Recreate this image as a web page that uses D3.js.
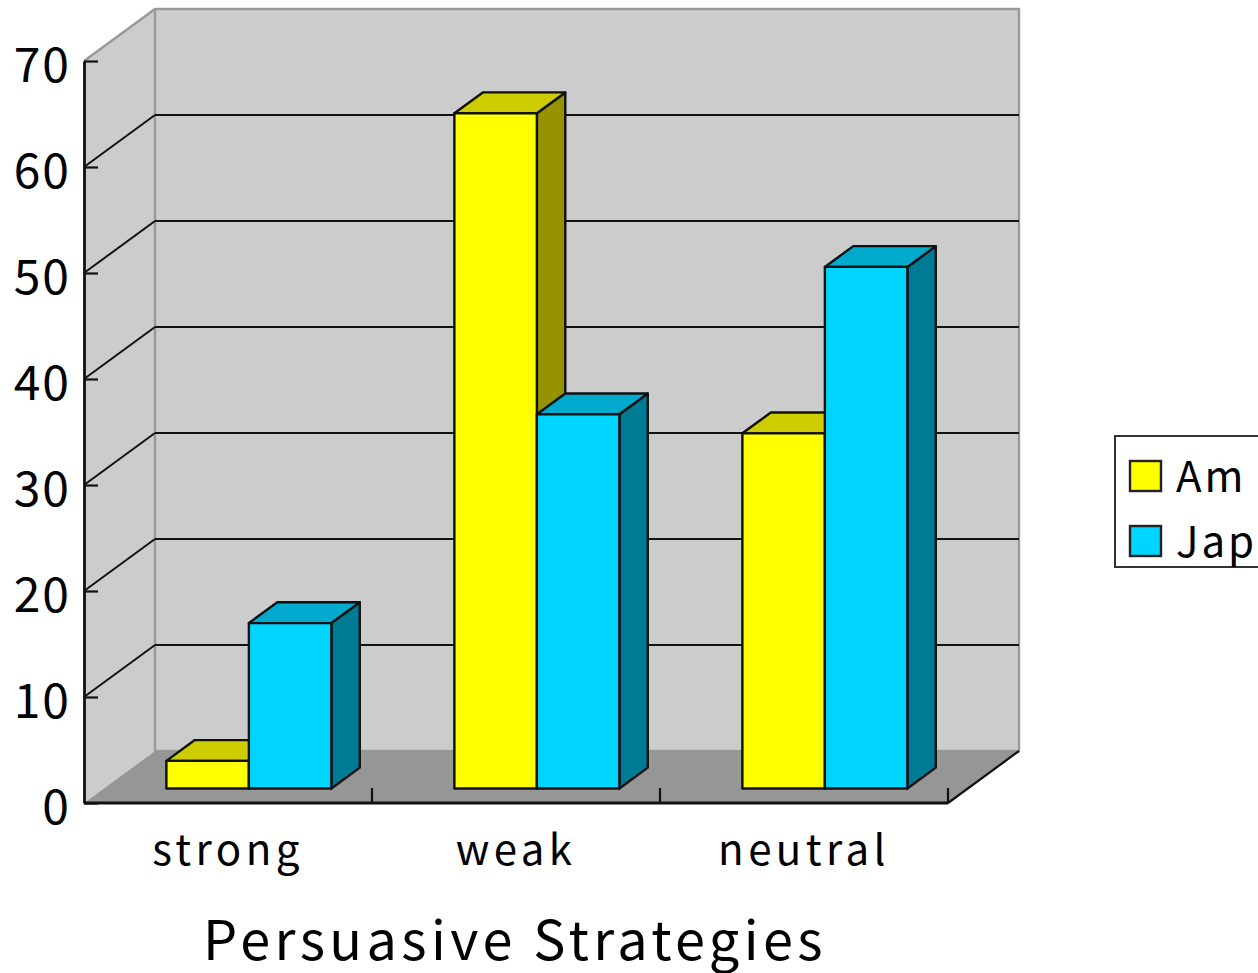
<!DOCTYPE html>
<html>
<head>
<meta charset="utf-8">
<script src="https://cdn.jsdelivr.net/npm/d3@7"></script>
<style>
  html, body { margin: 0; padding: 0; background: #fff; overflow: hidden; }
  svg { display: block; }
  text { font-family: "Noto Sans CJK JP", "Noto Sans", sans-serif; font-weight: 400; fill: #000; }
</style>
</head>
<body>
<svg width="1258" height="973"></svg>
<script>
var categories = ["strong", "weak", "neutral"];
var seriesNames = ["American", "Japanese"];
var legendLabels = ["Am", "Jap"];
var american = [2.6, 63.7, 33.5];
var japanese = [15.6, 35.3, 49.2];
var yTicks = [0, 10, 20, 30, 40, 50, 60, 70];

var colors = {
  American: { front: "#ffff00", top: "#cccc00", side: "#969300" },
  Japanese: { front: "#00d5ff", top: "#00aacc", side: "#007b96" }
};

var svg = d3.select("svg");

// front edge of the plot box, and how far the walls recede
var plotLeft = 84, plotRight = 948, plotBottom = 803, plotTop = 61;
var depthX = 71, depthY = 52;
// bars stand part way into the floor
var barNear = 0.28, barFar = 0.68;

var x0 = d3.scaleBand().domain(categories).range([plotLeft, plotRight]);
var x1 = d3.scaleBand().domain(seriesNames).range([62.5, 227.5]);
var y = d3.scaleLinear().domain([0, 70]).range([plotBottom, plotTop]);

function pts(list) {
  return list.map(function(p) { return p.join(","); }).join(" ");
}

var box = svg.append("g");

// left wall
box.append("polygon")
    .attr("points", pts([[plotLeft, plotBottom], [plotLeft + depthX, plotBottom - depthY],
      [plotLeft + depthX, plotTop - depthY], [plotLeft, plotTop]]))
    .attr("fill", "#cccccc");

// back wall
box.append("rect")
    .attr("x", plotLeft + depthX)
    .attr("y", plotTop - depthY)
    .attr("width", plotRight - plotLeft)
    .attr("height", plotBottom - plotTop)
    .attr("fill", "#cccccc")
    .attr("stroke", "#999999")
    .attr("stroke-width", 2.4);

// floor
box.append("polygon")
    .attr("points", pts([[plotLeft, plotBottom], [plotRight, plotBottom],
      [plotRight + depthX, plotBottom - depthY], [plotLeft + depthX, plotBottom - depthY]]))
    .attr("fill", "#969696");

// top edge of the left wall
box.append("line")
    .attr("x1", plotLeft).attr("y1", plotTop)
    .attr("x2", plotLeft + depthX).attr("y2", plotTop - depthY)
    .attr("stroke", "#999999")
    .attr("stroke-width", 2.4);

// gridlines: along the side wall and across the back
var inner = yTicks.filter(function(d) { return d > 0 && d < 70; });

box.selectAll(".side-grid")
    .data(inner)
    .enter().append("line")
    .attr("class", "side-grid")
    .attr("x1", plotLeft).attr("y1", function(d) { return y(d); })
    .attr("x2", plotLeft + depthX).attr("y2", function(d) { return y(d) - depthY; })
    .attr("stroke", "#111")
    .attr("stroke-width", 2);

box.selectAll(".back-grid")
    .data(inner)
    .enter().append("line")
    .attr("class", "back-grid")
    .attr("x1", plotLeft + depthX).attr("y1", function(d) { return y(d) - depthY; })
    .attr("x2", plotRight + depthX).attr("y2", function(d) { return y(d) - depthY; })
    .attr("stroke", "#111")
    .attr("stroke-width", 2);

// y axis
var yAxis = d3.axisLeft(y)
    .tickValues(yTicks)
    .tickSize(-14)
    .tickPadding(13)
    .tickSizeOuter(0);

var yG = svg.append("g")
    .attr("transform", "translate(" + plotLeft + ",0)")
    .call(yAxis);
yG.selectAll("line").attr("stroke", "#111").attr("stroke-width", 2.2);
yG.select(".domain").attr("stroke", "#111").attr("stroke-width", 2.8);
yG.selectAll("text")
    .style("font-size", "48px")
    .style("letter-spacing", "2px")
    .attr("dy", "0.43em");

// floor front edge, with its ticks and the right diagonal
svg.append("line")
    .attr("x1", plotLeft).attr("y1", plotBottom)
    .attr("x2", plotRight).attr("y2", plotBottom)
    .attr("stroke", "#111")
    .attr("stroke-width", 2.8);
svg.append("line")
    .attr("x1", plotRight).attr("y1", plotBottom)
    .attr("x2", plotRight + depthX).attr("y2", plotBottom - depthY)
    .attr("stroke", "#111")
    .attr("stroke-width", 2.2);

svg.selectAll(".x-tick")
    .data(categories)
    .enter().append("line")
    .attr("class", "x-tick")
    .attr("x1", function(d) { return x0(d) + x0.bandwidth(); })
    .attr("x2", function(d) { return x0(d) + x0.bandwidth(); })
    .attr("y1", plotBottom)
    .attr("y2", plotBottom - 15)
    .attr("stroke", "#111")
    .attr("stroke-width", 2.2);

// bars, one group per category, american first so japanese overlaps it
var rows = [];
categories.forEach(function(c, i) {
  rows.push({ cat: c, series: "American", value: american[i] });
  rows.push({ cat: c, series: "Japanese", value: japanese[i] });
});

var nearX = depthX * barNear, nearY = depthY * barNear;
var deepX = depthX * (barFar - barNear), deepY = depthY * (barFar - barNear);

var bar = svg.selectAll(".bar")
    .data(rows)
    .enter().append("g")
    .attr("class", "bar")
    .attr("stroke", "#111")
    .attr("stroke-width", 2.4)
    .attr("stroke-linejoin", "round");

function face(d) {
  var xa = x0(d.cat) + x1(d.series) + nearX;
  return { xa: xa, xb: xa + x1.bandwidth(), yt: y(d.value) - nearY, yb: y(0) - nearY };
}

bar.append("polygon")
    .attr("fill", function(d) { return colors[d.series].side; })
    .attr("points", function(d) {
      var f = face(d);
      return pts([[f.xb, f.yb], [f.xb + deepX, f.yb - deepY], [f.xb + deepX, f.yt - deepY], [f.xb, f.yt]]);
    });

bar.append("polygon")
    .attr("fill", function(d) { return colors[d.series].top; })
    .attr("points", function(d) {
      var f = face(d);
      return pts([[f.xa, f.yt], [f.xb, f.yt], [f.xb + deepX, f.yt - deepY], [f.xa + deepX, f.yt - deepY]]);
    });

bar.append("rect")
    .attr("fill", function(d) { return colors[d.series].front; })
    .attr("x", function(d) { return face(d).xa; })
    .attr("y", function(d) { return face(d).yt; })
    .attr("width", x1.bandwidth())
    .attr("height", function(d) { return y(0) - y(d.value); });

// category labels
svg.selectAll(".cat-label")
    .data(categories)
    .enter().append("text")
    .attr("class", "cat-label")
    .attr("x", function(d) { return x0(d) + x0.bandwidth() / 2; })
    .attr("y", 865)
    .attr("text-anchor", "middle")
    .style("font-size", "42px")
    .style("letter-spacing", "4.4px")
    .text(function(d) { return d; });

svg.append("text")
    .attr("x", 515)
    .attr("y", 960)
    .attr("text-anchor", "middle")
    .style("font-size", "54px")
    .style("letter-spacing", "4.4px")
    .text("Persuasive Strategies");

// legend, running off the right edge of the page
var legend = svg.append("g");
legend.append("rect")
    .attr("x", 1115).attr("y", 436)
    .attr("width", 160).attr("height", 131)
    .attr("fill", "#fff")
    .attr("stroke", "#333")
    .attr("stroke-width", 2);

var legendY = d3.scalePoint().domain(seriesNames).range([476, 541]);

var item = legend.selectAll(".item")
    .data(seriesNames)
    .enter().append("g")
    .attr("class", "item")
    .attr("transform", function(d) { return "translate(0," + legendY(d) + ")"; });

item.append("rect")
    .attr("x", 1130).attr("y", -15)
    .attr("width", 31).attr("height", 30)
    .attr("fill", function(d) { return colors[d].front; })
    .attr("stroke", "#222")
    .attr("stroke-width", 2.4);

item.append("text")
    .attr("x", 1176).attr("y", 16)
    .style("font-size", "42px")
    .style("letter-spacing", "3px")
    .text(function(d, i) { return legendLabels[i]; });
</script>
</body>
</html>
